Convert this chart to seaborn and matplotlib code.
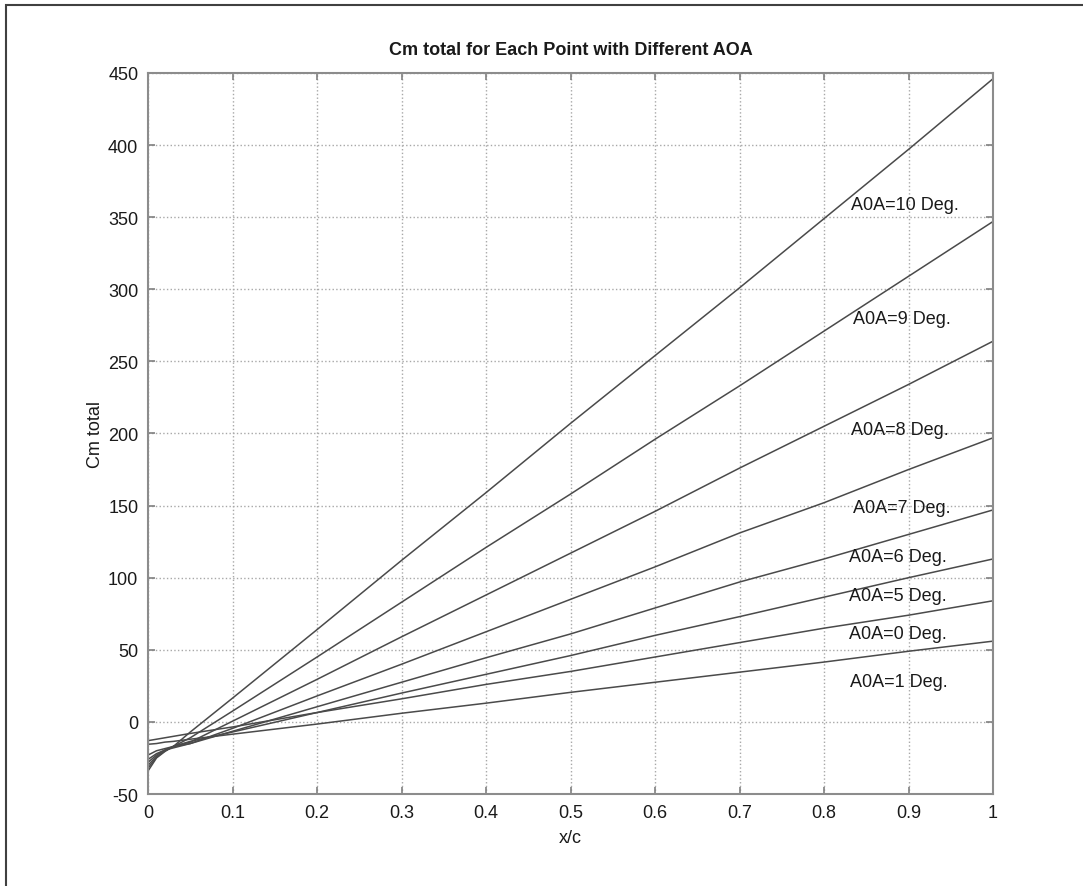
import matplotlib
matplotlib.use("Agg")

import matplotlib.pyplot as plt
import pandas as pd
import seaborn as sns
from matplotlib.patches import Rectangle

# ---------------------------------------------------------------------------
# Data
# ---------------------------------------------------------------------------

x_c = [0, 0.01, 0.02, 0.03, 0.05, 0.1, 0.2, 0.3, 0.4, 0.5, 0.6, 0.7, 0.8, 0.9, 1.0]

cm_aoa10 = [-34, -25, -20.5, -17, -7, 16.5, 64, 112, 159, 207, 254, 301, 349, 397, 446]
cm_aoa9  = [-32, -24.5, -20, -17, -11, 7.5, 45, 83, 121, 158, 196, 233, 271, 309, 347]
cm_aoa8  = [-30, -24, -20, -17, -14, 0.5, 29.5, 59, 88, 117, 146, 176, 205, 234, 264]
cm_aoa7  = [-28, -23, -19.5, -17, -15, -4.5, 18, 40, 62.5, 85, 107.5, 131, 152, 175, 197]
cm_aoa6  = [-26, -22, -19.5, -18, -15, -6.5, 10.5, 27.5, 44.5, 61, 79, 97, 113, 130, 147]
cm_aoa5  = [-23, -20, -18.5, -17, -13.5, -7, 6.5, 20, 33, 46, 60, 73, 86.5, 100, 113]
cm_aoa0  = [-13, -12, -11, -10, -8, -3.5, 6.5, 16, 26, 35, 45, 55, 65, 74, 84]
cm_aoa1  = [-15.5, -15, -14, -13.5, -12, -8.5, -1.5, 6, 13, 20.5, 27.5, 34.5, 41.5, 49, 56]

series = {
    "10": cm_aoa10, "9": cm_aoa9, "8": cm_aoa8, "7": cm_aoa7,
    "6": cm_aoa6, "5": cm_aoa5, "0": cm_aoa0, "1": cm_aoa1,
}

label_text = ["A0A=10 Deg.", "A0A=9 Deg.", "A0A=8 Deg.", "A0A=7 Deg.",
              "A0A=6 Deg.", "A0A=5 Deg.", "A0A=0 Deg.", "A0A=1 Deg."]
label_x = [0.832, 0.834, 0.832, 0.834, 0.830, 0.829, 0.829, 0.831]
label_y = [359, 280, 203, 149, 115, 88, 61, 28]

# long-form table for seaborn
df = pd.DataFrame(
    [(aoa, x, y) for aoa, ys in series.items() for x, y in zip(x_c, ys)],
    columns=["AOA", "x_c", "Cm"],
)

# ---------------------------------------------------------------------------
# Plot
# ---------------------------------------------------------------------------

sns.set_theme(style="white")
plt.rcParams["font.family"] = ["Liberation Sans", "DejaVu Sans"]
plt.rcParams["axes.unicode_minus"] = False

fig = plt.figure(figsize=(10.83, 8.87), dpi=100)
ax = fig.add_axes([0.1367, 0.1037, 0.7802, 0.8129])

for aoa in series:
    sns.lineplot(
        data=df[df["AOA"] == aoa], x="x_c", y="Cm",
        color="#4a4a4a", linewidth=1.1, ax=ax, legend=False,
    )

for txt, lx, ly in zip(label_text, label_x, label_y):
    ax.text(lx, ly, txt, fontsize=13, va="center", ha="left", color="#1a1a1a")

ax.set_xlim(0, 1)
ax.set_ylim(-50, 450)
ax.set_xticks([0, 0.1, 0.2, 0.3, 0.4, 0.5, 0.6, 0.7, 0.8, 0.9, 1])
ax.set_xticklabels(["0", "0.1", "0.2", "0.3", "0.4", "0.5", "0.6", "0.7", "0.8", "0.9", "1"])
ax.set_yticks(range(-50, 451, 50))

ax.grid(True, linestyle=":", color="#a8a8a8", linewidth=1.0)
ax.tick_params(direction="in", length=5, width=1.2, color="#808080",
               labelsize=13, labelcolor="#1a1a1a", pad=7,
               top=True, right=True, bottom=True, left=True)
for sp in ax.spines.values():
    sp.set_color("#8c8c8c")
    sp.set_linewidth(1.5)

ax.set_title("Cm total for Each Point with Different AOA",
             fontsize=13, fontweight="bold", color="#1a1a1a", pad=14)
ax.set_xlabel("x/c", fontsize=13, color="#1a1a1a", labelpad=6)
ax.set_ylabel("Cm total", fontsize=13, color="#1a1a1a", labelpad=3)

# outer figure frame (only top/left edges fall inside the picture)
fig.patches.append(Rectangle((6 / 1083, -0.2), 1.5, 1.2 - 6 / 887,
                             transform=fig.transFigure, fill=False,
                             edgecolor="#404040", linewidth=1.5))

fig.savefig("out.png", dpi=100)
plt.close("all")
